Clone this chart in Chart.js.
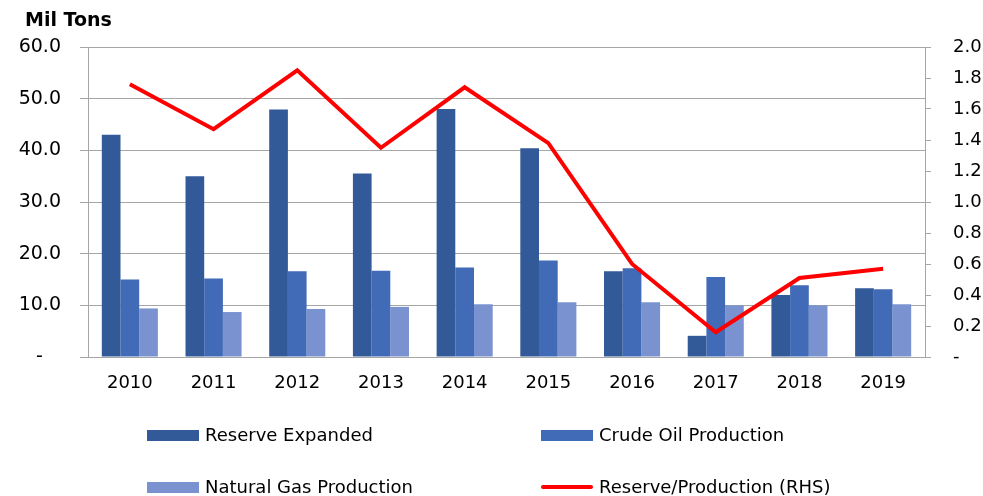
<!DOCTYPE html>
<html>
<head>
<meta charset="utf-8">
<script src="https://cdn.jsdelivr.net/npm/chart.js@4/dist/chart.umd.min.js"></script>
<style>
  html, body { margin: 0; padding: 0; background: #fff; }
  #wrap { position: relative; width: 983px; height: 496px; overflow: hidden; font-family: "DejaVu Sans", Verdana, sans-serif; }
  canvas { position: absolute; left: 0; top: 0; }
  .title { position: absolute; left: 25px; top: 8px; font-weight: bold; font-size: 19px; line-height: 22px; color: #000; }
  .lg { position: absolute; font-size: 18px; line-height: 22px; color: #000; white-space: nowrap; }
  .sw { position: absolute; width: 52px; }
</style>
</head>
<body>
<div id="wrap">
  <canvas id="c" width="983" height="496"></canvas>
  <div class="title">Mil Tons</div>
  <div id="legend"></div>
</div>
<script>
const categories = ['2010','2011','2012','2013','2014','2015','2016','2017','2018','2019'];
const reserveExpanded = [43.0, 35.0, 47.9, 35.5, 48.0, 40.4, 16.6, 4.1, 12.0, 13.3];
const crudeOilProduction = [15.0, 15.2, 16.6, 16.7, 17.3, 18.7, 17.2, 15.5, 13.9, 13.1];
const naturalGasProduction = [9.4, 8.7, 9.3, 9.7, 10.2, 10.6, 10.6, 10.0, 10.0, 10.2];
const reserveProductionRatio = [1.76, 1.47, 1.85, 1.35, 1.74, 1.38, 0.60, 0.16, 0.51, 0.57];
const seriesNames = ['Reserve Expanded', 'Crude Oil Production', 'Natural Gas Production', 'Reserve/Production (RHS)'];
const leftTicks = [0, 10, 20, 30, 40, 50, 60];
const rightTicks = [0, 0.2, 0.4, 0.6, 0.8, 1.0, 1.2, 1.4, 1.6, 1.8, 2.0];

const colors = ['#325A98', '#416AB7', '#7A93D0', '#FF0000'];
const gridColor = '#A6A6A6';
const FONT = { family: '"DejaVu Sans", Verdana, sans-serif', size: 18 };
const YFONT = { family: '"DejaVu Sans", Verdana, sans-serif', size: 19 };

const chart = new Chart(document.getElementById('c'), {
  type: 'bar',
  data: {
    labels: categories,
    datasets: [
      { type: 'line', label: seriesNames[3], data: reserveProductionRatio, yAxisID: 'y2',
        borderColor: colors[3], backgroundColor: colors[3], borderWidth: 4, pointRadius: 0,
        tension: 0, order: 0, fill: false },
      { label: seriesNames[0], data: reserveExpanded, backgroundColor: colors[0], yAxisID: 'y', order: 1,
        categoryPercentage: 0.67, barPercentage: 1.0 },
      { label: seriesNames[1], data: crudeOilProduction, backgroundColor: colors[1], yAxisID: 'y', order: 1,
        categoryPercentage: 0.67, barPercentage: 1.0 },
      { label: seriesNames[2], data: naturalGasProduction, backgroundColor: colors[2], yAxisID: 'y', order: 1,
        categoryPercentage: 0.67, barPercentage: 1.0 }
    ]
  },
  options: {
    responsive: false,
    animation: false,
    devicePixelRatio: 1,
    layout: { padding: { top: 47, left: 0, right: 0, bottom: 0 } },
    plugins: { legend: { display: false }, tooltip: { enabled: false }, title: { display: false } },
    scales: {
      x: {
        grid: { display: false },
        border: { display: true, color: gridColor, width: 1 },
        ticks: { color: '#000', font: FONT, padding: 8, maxRotation: 0 },
        afterFit: s => { s.height = 139; }
      },
      y: {
        position: 'left',
        min: leftTicks[0], max: leftTicks[leftTicks.length - 1],
        afterBuildTicks: s => { s.ticks = leftTicks.map(v => ({ value: v })); },
        grid: { color: gridColor, lineWidth: 1, drawTicks: true, tickLength: 8, tickColor: gridColor },
        border: { display: true, color: gridColor, width: 1 },
        ticks: { color: '#000', font: YFONT, padding: 19,
          callback: v => v === 0 ? '-\u00a0\u00a0\u00a0' : Number(v).toFixed(1) },
        afterFit: s => { s.width = 88; }
      },
      y2: {
        position: 'right',
        min: rightTicks[0], max: rightTicks[rightTicks.length - 1],
        afterBuildTicks: s => { s.ticks = rightTicks.map(v => ({ value: v })); },
        grid: { drawOnChartArea: false, drawTicks: true, tickLength: 6, color: gridColor },
        border: { display: true, color: gridColor, width: 1 },
        ticks: { color: '#000', font: FONT, padding: 22,
          callback: v => v === 0 ? '-' : Number(v).toFixed(1) },
        afterFit: s => { s.width = 58; }
      }
    }
  }
});

// Legend (two columns, two rows) built from the series names and colours
const legendItems = [
  { name: seriesNames[0], color: colors[0], kind: 'box', x: 147, y: 435 },
  { name: seriesNames[1], color: colors[1], kind: 'box', x: 541, y: 435 },
  { name: seriesNames[2], color: colors[2], kind: 'box', x: 147, y: 487 },
  { name: seriesNames[3], color: colors[3], kind: 'line', x: 541, y: 487 }
];
const lg = document.getElementById('legend');
legendItems.forEach(it => {
  const sw = document.createElement('div');
  sw.className = 'sw';
  const h = it.kind === 'box' ? 11 : 4;
  sw.style.left = it.x + 'px';
  sw.style.top = (it.y - h / 2) + 'px';
  sw.style.height = h + 'px';
  sw.style.background = it.color;
  if (it.kind === 'line') sw.style.borderRadius = '2px';
  lg.appendChild(sw);
  const t = document.createElement('div');
  t.className = 'lg';
  t.textContent = it.name;
  t.style.left = (it.x + 58) + 'px';
  t.style.top = (it.y - 11) + 'px';
  lg.appendChild(t);
});
</script>
</body>
</html>
